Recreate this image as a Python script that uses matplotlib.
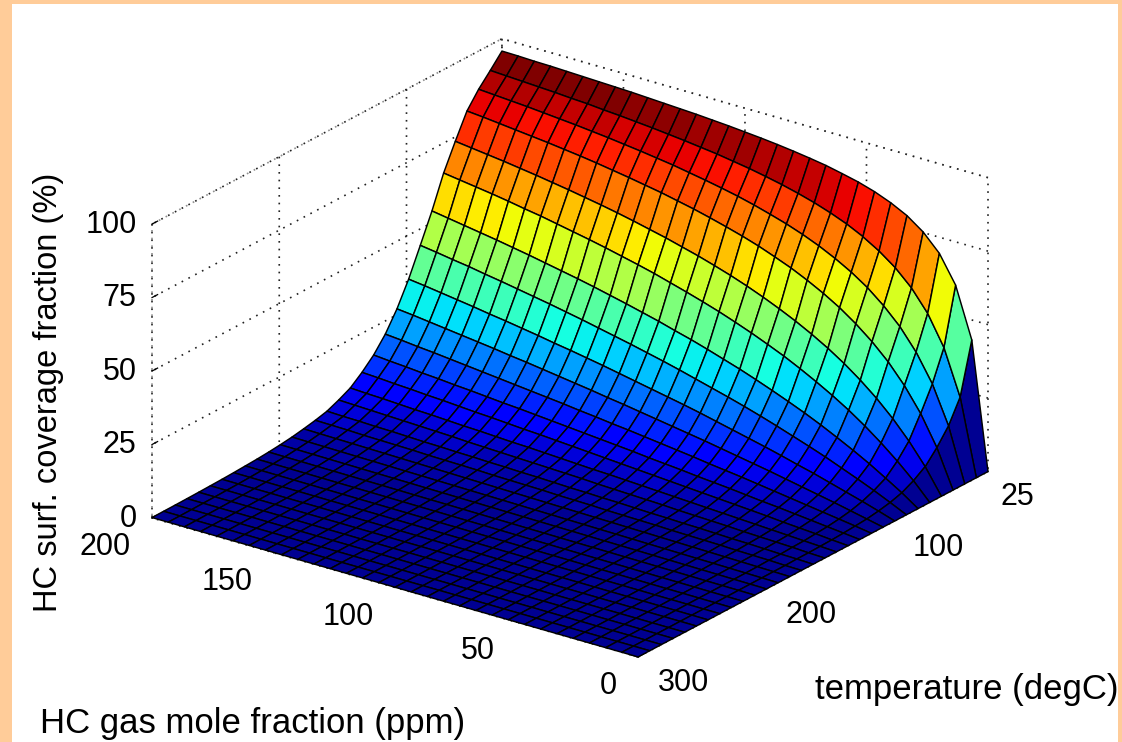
import numpy as np
import matplotlib
matplotlib.use("Agg")
import matplotlib.pyplot as plt
from matplotlib.patches import Rectangle
from mpl_toolkits.mplot3d import proj3d

gas_ppm = np.linspace(0, 200, 31)
temperature = np.linspace(25, 300, 31)
ppm_ticks = [0, 50, 100, 150, 200]
temp_ticks = [25, 100, 200, 300]
cov_ticks = [0, 25, 50, 75, 100]
coverage = [
[0,43.2,60.3,69.5,75.2,79.2,82.0,84.2,85.9,87.2,88.4,89.3,90.1,90.8,91.4,91.9,92.4,92.8,93.2,93.5,93.8,94.1,94.4,94.6,94.8,95.0,95.2,95.4,95.5,95.7,95.8],
[0,25.9,41.2,51.2,58.3,63.6,67.7,71.0,73.7,75.9,77.8,79.4,80.8,82.0,83.1,84.0,84.9,85.6,86.3,86.9,87.5,88.0,88.5,88.9,89.4,89.7,90.1,90.4,90.7,91.0,91.3],
[0,18.2,30.9,40.1,47.2,52.7,57.3,61.0,64.1,66.8,69.1,71.1,72.8,74.4,75.8,77.0,78.1,79.1,80.1,80.9,81.7,82.4,83.1,83.7,84.3,84.8,85.3,85.8,86.2,86.6,87.0],
[0,12.9,22.9,30.8,37.3,42.6,47.1,51.0,54.3,57.2,59.8,62.0,64.1,65.9,67.5,69.0,70.4,71.6,72.8,73.8,74.8,75.7,76.6,77.4,78.1,78.8,79.4,80.0,80.6,81.2,81.7],
[0,8.5,15.6,21.7,27.0,31.6,35.7,39.3,42.5,45.4,48.0,50.4,52.6,54.6,56.4,58.1,59.6,61.1,62.4,63.7,64.9,66.0,67.0,68.0,68.9,69.8,70.6,71.4,72.1,72.8,73.5],
[0,5.8,10.9,15.5,19.7,23.5,26.9,30.0,32.9,35.6,38.0,40.3,42.4,44.4,46.2,47.9,49.5,51.1,52.5,53.8,55.1,56.3,57.4,58.5,59.6,60.5,61.5,62.4,63.2,64.0,64.8],
[0,3.8,7.2,10.5,13.5,16.3,19.0,21.5,23.8,26.0,28.1,30.1,31.9,33.7,35.4,36.9,38.5,39.9,41.3,42.6,43.9,45.1,46.2,47.3,48.4,49.4,50.4,51.3,52.2,53.1,54.0],
[0,2.6,5.1,7.4,9.6,11.8,13.8,15.7,17.6,19.4,21.1,22.7,24.2,25.7,27.2,28.6,29.9,31.2,32.4,33.6,34.8,35.9,37.0,38.0,39.0,40.0,40.9,41.9,42.7,43.6,44.4],
[0,1.8,3.5,5.1,6.7,8.3,9.7,11.2,12.6,13.9,15.2,16.5,17.8,19.0,20.1,21.2,22.3,23.4,24.5,25.5,26.5,27.4,28.4,29.3,30.2,31.0,31.9,32.7,33.5,34.3,35.0],
[0,1.2,2.4,3.6,4.7,5.8,6.9,8.0,9.0,10.0,11.0,12.0,12.9,13.8,14.7,15.6,16.5,17.3,18.2,19.0,19.8,20.6,21.4,22.1,22.9,23.6,24.3,25.0,25.7,26.4,27.0],
[0,.9,1.7,2.5,3.3,4.1,4.9,5.7,6.5,7.2,7.9,8.7,9.4,10.1,10.8,11.5,12.1,12.8,13.4,14.1,14.7,15.3,15.9,16.5,17.1,17.7,18.3,18.9,19.4,20.0,20.5],
[0,.6,1.2,1.8,2.4,3.0,3.5,4.1,4.7,5.2,5.7,6.3,6.8,7.3,7.9,8.4,8.9,9.4,9.9,10.4,10.9,11.4,11.8,12.3,12.8,13.2,13.7,14.1,14.6,15.0,15.5],
[0,.4,.9,1.3,1.7,2.2,2.6,3.0,3.4,3.8,4.2,4.6,5.0,5.4,5.8,6.2,6.6,7.0,7.4,7.8,8.1,8.5,8.9,9.2,9.6,10.0,10.3,10.7,11.0,11.4,11.7],
[0,.3,.6,.9,1.2,1.5,1.8,2.1,2.4,2.7,3.0,3.3,3.6,3.9,4.2,4.4,4.7,5.0,5.3,5.6,5.8,6.1,6.4,6.6,6.9,7.2,7.4,7.7,8.0,8.2,8.5],
[0,.2,.5,.7,.9,1.1,1.4,1.6,1.8,2.0,2.3,2.5,2.7,2.9,3.1,3.4,3.6,3.8,4.0,4.2,4.4,4.6,4.8,5.1,5.3,5.5,5.7,5.9,6.1,6.3,6.5],
[0,.2,.3,.5,.7,.8,1.0,1.2,1.3,1.5,1.6,1.8,2.0,2.1,2.3,2.4,2.6,2.8,2.9,3.1,3.2,3.4,3.5,3.7,3.8,4.0,4.2,4.3,4.5,4.6,4.8],
[0,.1,.3,.4,.5,.7,.8,.9,1.0,1.2,1.3,1.4,1.5,1.7,1.8,1.9,2.1,2.2,2.3,2.4,2.6,2.7,2.8,2.9,3.1,3.2,3.3,3.4,3.6,3.7,3.8],
[0,.1,.2,.3,.4,.5,.6,.7,.8,.9,1.0,1.1,1.2,1.3,1.4,1.5,1.6,1.7,1.8,1.9,2.0,2.1,2.2,2.3,2.4,2.5,2.6,2.7,2.8,2.9,3.0],
[0,.08,.15,.23,.31,.38,.46,.54,.61,.69,.77,.84,.92,1.0,1.07,1.15,1.23,1.3,1.38,1.46,1.53,1.61,1.69,1.76,1.84,1.92,1.99,2.07,2.15,2.22,2.3],
[0,.06,.12,.18,.24,.3,.36,.42,.48,.54,.6,.66,.72,.78,.84,.9,.96,1.02,1.08,1.14,1.2,1.26,1.32,1.38,1.44,1.5,1.56,1.62,1.68,1.74,1.8],
[0,.05,.09,.14,.19,.23,.28,.33,.37,.42,.47,.51,.56,.61,.65,.70,.75,.79,.84,.89,.93,.98,1.03,1.07,1.12,1.17,1.21,1.26,1.31,1.35,1.4],
[0,.04,.07,.11,.15,.18,.22,.26,.29,.33,.37,.40,.44,.48,.51,.55,.59,.62,.66,.70,.73,.77,.81,.84,.88,.92,.95,.99,1.03,1.06,1.10],
[0,.03,.06,.09,.12,.15,.18,.21,.24,.27,.30,.33,.36,.39,.42,.45,.48,.51,.54,.57,.60,.63,.66,.69,.72,.75,.78,.81,.84,.87,.90],
[0,.02,.05,.07,.09,.12,.14,.16,.19,.21,.23,.26,.28,.30,.33,.35,.37,.40,.42,.44,.47,.49,.51,.54,.56,.58,.61,.63,.65,.68,.70],
[0,.02,.04,.06,.07,.09,.11,.13,.15,.17,.18,.20,.22,.24,.26,.28,.29,.31,.33,.35,.37,.39,.40,.42,.44,.46,.48,.50,.51,.53,.55],
[0,.02,.03,.05,.06,.08,.09,.11,.12,.14,.15,.17,.18,.20,.21,.23,.24,.26,.27,.29,.30,.32,.33,.35,.36,.38,.39,.41,.42,.44,.45],
[0,.01,.02,.04,.05,.06,.07,.08,.09,.11,.12,.13,.14,.15,.16,.18,.19,.20,.21,.22,.23,.25,.26,.27,.28,.29,.30,.32,.33,.34,.35],
[0,.01,.02,.03,.04,.05,.06,.07,.07,.08,.09,.10,.11,.12,.13,.14,.15,.16,.17,.18,.19,.20,.21,.21,.22,.23,.24,.25,.26,.27,.28],
[0,.01,.01,.02,.03,.04,.04,.05,.06,.07,.07,.08,.09,.10,.10,.11,.12,.12,.13,.14,.15,.15,.16,.17,.18,.18,.19,.20,.21,.21,.22],
[0,.01,.01,.02,.02,.03,.04,.04,.05,.05,.06,.07,.07,.08,.08,.09,.10,.10,.11,.11,.12,.13,.13,.14,.14,.15,.16,.16,.17,.17,.18],
[0,.01,.01,.02,.02,.03,.03,.04,.04,.05,.05,.06,.06,.07,.07,.08,.08,.09,.09,.10,.10,.11,.11,.12,.12,.13,.13,.14,.14,.15,.15],
]

plt.rcParams['font.family'] = ['Liberation Sans', 'DejaVu Sans']
plt.rcParams['grid.color'] = '#222222'
plt.rcParams['grid.linewidth'] = 1.2
plt.rcParams['grid.linestyle'] = (0, (1, 3.6))

W, H = 1122, 742
fig = plt.figure(figsize=(W/100, H/100), dpi=100, facecolor='#FFCC99')
fig.patches.append(Rectangle((12/W, 0), (1118-12)/W, (H-4)/H, transform=fig.transFigure,
                             facecolor='white', edgecolor='none', figure=fig, zorder=-5))
ax = fig.add_axes([0, 0, 1, 1], projection='3d')
ax.patch.set_alpha(0)
ax.set_proj_type('ortho')
ax.view_init(elev=22.9, azim=126.3)
ax.set_box_aspect((603, 591, 319))
ax.set_xlim(0, 200)
ax.set_ylim(25, 300)
ax.set_zlim(0, 100)

X, Y = np.meshgrid(gas_ppm, temperature)
Z = np.array(coverage, dtype=float)
jet = matplotlib.colormaps['jet']
levels = (np.floor(Z / Z.max() * 63.999) + 1) / 64
surf = ax.plot_surface(X, Y, Z, rstride=1, cstride=1, facecolors=jet(levels), shade=False)
surf.set_edgecolor('black')
surf.set_linewidth(1.05)

ax.set_xticks(ppm_ticks)
ax.set_yticks(temp_ticks)
ax.set_zticks(cov_ticks)
ax.grid(True)
for a in (ax.xaxis, ax.yaxis, ax.zaxis):
    a.line.set_color('none')
    a.pane.set_facecolor('none')
    a.pane.set_edgecolor('#222222')
    a.pane.set_linestyle((0, (1, 3.6)))
    a.pane.set_linewidth(1.2)
    a._axinfo['tick']['inward_factor'] = 0.0
    a._axinfo['tick']['outward_factor'] = 0.2
    a._axinfo['tick']['linewidth'] = {True: 0.9, False: 0.5}
ax.zaxis.pane.set_edgecolor('none')
ax.zaxis.set_ticks_position('upper')
ax.tick_params(axis='both', labelsize=22, colors='black')
ax.tick_params(axis='x', pad=12)
ax.tick_params(axis='y', pad=23)
ax.tick_params(axis='z', pad=-2)
for lbl in ax.get_xticklabels():
    lbl.set_ha('right')
    lbl.set_va('center')
for val, lbl in zip(temp_ticks, ax.get_yticklabels()):
    lbl.set_ha('right' if val == 25 else 'center')
    lbl.set_va('bottom')
for lbl in ax.get_zticklabels():
    lbl.set_ha('right')
    lbl.set_va('center')

# fit the projected box onto the page
def corners():
    ax.apply_aspect()
    M = ax.get_proj()
    out = []
    for p in [(200, 300, 0), (0, 25, 0)]:
        u, v, _ = proj3d.proj_transform(*p, M)
        out.append(ax.transData.transform((u, v)))
    return np.array(out)

S = H
c = corners()
S = S * (988 - 152) / (c[1, 0] - c[0, 0])
ax.set_position([0, 0, S / W, S / H])
c = corners()
dx = 152 - c[0, 0]
dy = (H - 518) - c[0, 1]
ax.set_position([dx / W, dy / H, S / W, S / H])

fig.text(49/W, 1 - 392/H, 'HC surf. coverage fraction (%)', rotation=90, fontsize=23.5, ha='center', va='center')
fig.text(40/W, 1 - 724/H, 'HC gas mole fraction (ppm)', fontsize=25, ha='left', va='center')
fig.text(815/W, 1 - 690/H, 'temperature (degC)', fontsize=25, ha='left', va='center')

fig.savefig('out.png', dpi=100, facecolor=fig.get_facecolor())
